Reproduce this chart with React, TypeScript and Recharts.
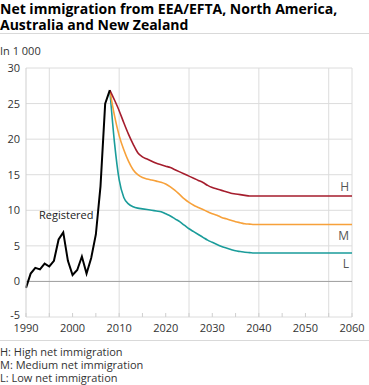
import React from 'react';
import { LineChart, Line, XAxis, YAxis, CartesianGrid, ReferenceLine } from 'recharts';

const FONT = '"Open Sans", "DejaVu Sans", sans-serif';

// registered net immigration 1990-2008, in 1 000
const registeredYears = [1990, 1991, 1992, 1993, 1994, 1995, 1996, 1997, 1998, 1999, 2000, 2001, 2002, 2003, 2004, 2005, 2006, 2007, 2008];
const registered = [-0.9, 1.1, 1.9, 1.7, 2.5, 2.1, 2.9, 5.9, 6.9, 2.9, 0.9, 1.6, 3.5, 1.1, 3.3, 6.6, 13.4, 25.0, 26.9];

// projections 2008-2060
const projectionYears = [
    2008, 2009, 2010, 2011, 2012, 2013, 2014, 2015, 2016, 2017, 2018, 2019, 2020, 2021, 2022, 2023, 2024, 2025,
    2026, 2027, 2028, 2029, 2030, 2031, 2032, 2033, 2034, 2035, 2036, 2037, 2038, 2039, 2040, 2041, 2042, 2043,
    2044, 2045, 2046, 2047, 2048, 2049, 2050, 2051, 2052, 2053, 2054, 2055, 2056, 2057, 2058, 2059, 2060,
];
const high = [
    26.9, 25.5, 24.0, 22.3, 20.7, 19.3, 18.1, 17.5, 17.2, 16.9, 16.6, 16.4, 16.2, 16.0, 15.7, 15.4, 15.1, 14.8,
    14.5, 14.2, 13.9, 13.5, 13.2, 13.0, 12.8, 12.6, 12.4, 12.3, 12.2, 12.1, 12.0, 12.0, 12.0, 12.0, 12.0, 12.0,
    12.0, 12.0, 12.0, 12.0, 12.0, 12.0, 12.0, 12.0, 12.0, 12.0, 12.0, 12.0, 12.0, 12.0, 12.0, 12.0, 12.0,
];
const medium = [
    26.9, 23.3, 20.5, 18.5, 16.9, 15.7, 15.0, 14.6, 14.4, 14.25, 14.1, 13.95, 13.7, 13.3, 12.8, 12.2, 11.6, 11.1,
    10.7, 10.4, 10.1, 9.8, 9.5, 9.3, 9.0, 8.8, 8.6, 8.4, 8.25, 8.1, 8.05, 8.0, 8.0, 8.0, 8.0, 8.0,
    8.0, 8.0, 8.0, 8.0, 8.0, 8.0, 8.0, 8.0, 8.0, 8.0, 8.0, 8.0, 8.0, 8.0, 8.0, 8.0, 8.0,
];
const low = [
    26.9, 19.5, 14.3, 11.8, 10.9, 10.5, 10.3, 10.2, 10.1, 10.0, 9.9, 9.8, 9.5, 9.2, 8.8, 8.4, 7.9, 7.4,
    7.0, 6.6, 6.2, 5.8, 5.5, 5.2, 4.9, 4.7, 4.5, 4.3, 4.2, 4.1, 4.05, 4.0, 4.0, 4.0, 4.0, 4.0,
    4.0, 4.0, 4.0, 4.0, 4.0, 4.0, 4.0, 4.0, 4.0, 4.0, 4.0, 4.0, 4.0, 4.0, 4.0, 4.0, 4.0,
];

const yTicks = [-5, 0, 5, 10, 15, 20, 25, 30];
const xTicks = [1990, 1995, 2000, 2005, 2010, 2015, 2020, 2025, 2030, 2035, 2040, 2045, 2050, 2055, 2060];
const xGridYears = [1995, 2010, 2025, 2040, 2055];
const notes = ['H: High net immigration', 'M: Medium net immigration', 'L: Low net immigration'];

const X_TICK_MARGIN = 6;

function XTick(props: any) {
    const { x, y, payload } = props;
    const base = y - X_TICK_MARGIN;
    return (
        <g>
            <line x1={x} x2={x} y1={base - 4} y2={base} stroke="#cfcfcf" />
            {payload.value % 10 === 0 && (
                <text x={x} y={y} dy={9} textAnchor="middle" fontSize={11} fill="#333" fontFamily={FONT}>
                    {payload.value}
                </text>
            )}
        </g>
    );
}

function YTick(props: any) {
    const { x, y, payload } = props;
    // the bottom label sits a little higher, clear of the year labels
    const shift = payload.value === -5 ? -2 : 0;
    return (
        <text x={x} y={y + shift} dy={4} textAnchor="end" fontSize={11} fill="#333" fontFamily={FONT}>
            {payload.value}
        </text>
    );
}

function endLabel(text: string, dy: number) {
    return (props: any) => {
        const { x, y, index } = props;
        if (index !== projectionYears.length - 1 + registeredYears.length - 1) return null;
        return (
            <text x={x - 3} y={y + dy} textAnchor="end" fontSize={12} fill="#555" fontFamily={FONT}>
                {text}
            </text>
        );
    };
}

function registeredLabel(props: any) {
    const { x, y, index } = props;
    if (index !== 8) return null;
    return (
        <text x={x + 3} y={y - 13} textAnchor="middle" fontSize={11} fill="#222" fontFamily={FONT}>
            Registered
        </text>
    );
}

export default function App() {
    const data = React.useMemo(() => {
        const rows: { [year: number]: any } = {};
        registeredYears.forEach((yr, i) => {
            rows[yr] = { year: yr, registered: registered[i] };
        });
        projectionYears.forEach((yr, i) => {
            if (!rows[yr]) rows[yr] = { year: yr };
            rows[yr].high = high[i];
            rows[yr].medium = medium[i];
            rows[yr].low = low[i];
        });
        return Object.values(rows).sort((a: any, b: any) => a.year - b.year);
    }, []);

    return (
        <div style={{ position: 'absolute', left: 0, top: 0, width: 369, height: 385, fontFamily: FONT, background: '#fff' }}>
            <div style={{ position: 'absolute', left: 0, top: 1, fontSize: 14, fontWeight: 700, lineHeight: '16px', color: '#000' }}>
                <div style={{ height: 16 }}>Net immigration from EEA/EFTA, North America,</div>
                <div style={{ height: 16 }}>Australia and New Zealand</div>
            </div>
            <div style={{ position: 'absolute', left: 0, top: 33, width: 369, height: 1, background: '#d9d9d9' }} />
            <div style={{ position: 'absolute', left: 0, top: 43, fontSize: 11, color: '#333' }}>In 1 000</div>

            <div style={{ position: 'absolute', left: 0, top: 0 }}>
                <LineChart width={369} height={340} data={data} margin={{ top: 68, right: 17, bottom: 3, left: 0 }}>
                    <CartesianGrid vertical={false} stroke="#dcdcdc" />
                    <XAxis
                        dataKey="year"
                        type="number"
                        domain={[1990, 2060]}
                        ticks={xTicks}
                        interval={0}
                        height={20}
                        axisLine={false}
                        tickLine={false}
                        tickSize={0}
                        tickMargin={X_TICK_MARGIN}
                        tick={<XTick />}
                    />
                    <YAxis
                        domain={[-5, 30]}
                        ticks={yTicks}
                        width={26}
                        axisLine={{ stroke: '#cfcfcf' }}
                        tickLine={false}
                        tickSize={0}
                        tickMargin={6}
                        tick={<YTick />}
                    />
                    {xGridYears.map((yr) => (
                        <ReferenceLine key={yr} x={yr} stroke="#dcdcdc" />
                    ))}
                    <ReferenceLine x={2060} stroke="#dcdcdc" />
                    <ReferenceLine y={0} stroke="#a0a0a0" />
                    <Line
                        dataKey="low"
                        type="monotone"
                        stroke="#1a9c9a"
                        strokeWidth={1.6}
                        dot={false}
                        isAnimationActive={false}
                        label={endLabel('L', 15)}
                    />
                    <Line
                        dataKey="medium"
                        type="monotone"
                        stroke="#f7a13a"
                        strokeWidth={1.6}
                        dot={false}
                        isAnimationActive={false}
                        label={endLabel('M', 15)}
                    />
                    <Line
                        dataKey="high"
                        type="monotone"
                        stroke="#a51d2d"
                        strokeWidth={1.6}
                        dot={false}
                        isAnimationActive={false}
                        label={endLabel('H', -5)}
                    />
                    <Line
                        dataKey="registered"
                        type="linear"
                        stroke="#000"
                        strokeWidth={2}
                        dot={false}
                        isAnimationActive={false}
                        label={registeredLabel}
                    />
                </LineChart>
            </div>

            <div style={{ position: 'absolute', left: 0, top: 340, width: 369, height: 1, background: '#d9d9d9' }} />
            {notes.map((note, i) => (
                <div
                    key={note}
                    style={{ position: 'absolute', left: 0, top: 345 + i * 13, height: 13, fontSize: 11, lineHeight: '13px', color: '#333', whiteSpace: 'nowrap' }}
                >
                    {note}
                </div>
            ))}
        </div>
    );
}
